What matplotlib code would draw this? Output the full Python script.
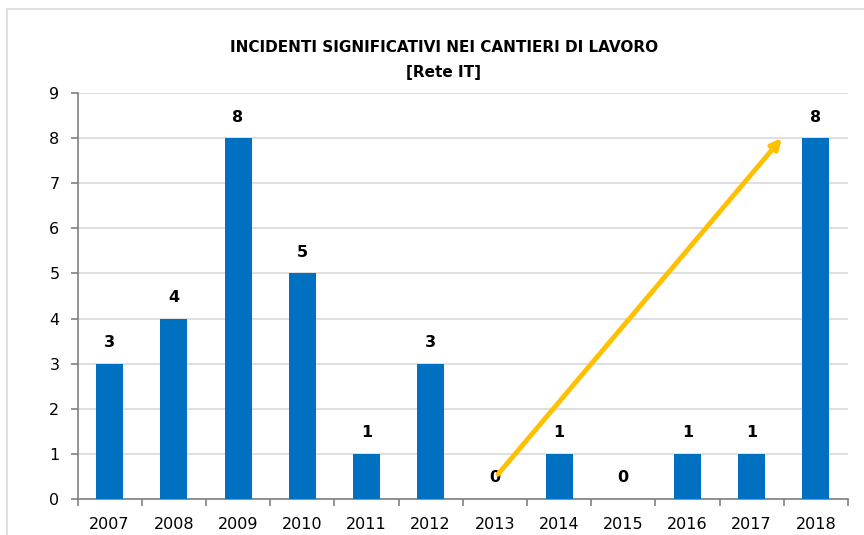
import numpy as np
import matplotlib.pyplot as plt
from matplotlib.patches import Rectangle

plt.rcParams['font.family'] = ['DejaVu Sans']

years = ['2007', '2008', '2009', '2010', '2011', '2012',
         '2013', '2014', '2015', '2016', '2017', '2018']
incidents = [3, 4, 8, 5, 1, 3, 0, 1, 0, 1, 1, 8]

# trend arrow (category index, value)
arrow_start = (6.05, 0.55)
arrow_end = (10.47, 8.0)

fig = plt.figure(figsize=(8.64, 5.35), dpi=100)
fig.patches.append(Rectangle((7 / 864, -0.1), 1.2, 1 - 9 / 535 + 0.1,
                             transform=fig.transFigure, fill=False,
                             edgecolor='#D9D9D9', linewidth=1.2))

ax = fig.add_axes([77.5 / 864, 1 - 499 / 535, (848 - 77.5) / 864, (499 - 93) / 535])
x = np.arange(len(years))
ax.bar(x, incidents, width=0.42, color='#0070C0', zorder=3)

for xi, v in zip(x, incidents):
    ax.text(xi, v + 0.3, str(v), ha='center', va='bottom',
            fontsize=11.5, fontweight='bold', color='black', zorder=4)

ax.annotate('', xy=arrow_end, xytext=arrow_start,
            arrowprops=dict(arrowstyle='-|>,head_length=0.6,head_width=0.3',
                            color='#FFC000', lw=3.5, shrinkA=0, shrinkB=0),
            zorder=5)

ax.set_xlim(-0.5, len(years) - 0.5)
ax.set_ylim(0, 9)
ax.set_yticks(range(0, 10))
ax.set_xticks(x)
ax.set_xticklabels(years)
ax.set_xticks(np.arange(-0.5, len(years), 1), minor=True)
ax.tick_params(axis='x', which='major', length=0, pad=13, labelsize=11.5)
ax.tick_params(axis='x', which='minor', length=5, color='#808080', width=1.2)
ax.tick_params(axis='y', length=5, color='#808080', width=1.2, pad=8, labelsize=11.5)

ax.grid(axis='y', color='#D9D9D9', linewidth=1.2, zorder=0)
for s in ['top', 'right']:
    ax.spines[s].set_visible(False)
for s in ['left', 'bottom']:
    ax.spines[s].set_color('#808080')
    ax.spines[s].set_linewidth(1.2)

fig.text(444 / 864, 1 - 48 / 535, 'INCIDENTI SIGNIFICATIVI NEI CANTIERI DI LAVORO',
         ha='center', va='center', fontsize=11, fontweight='bold')
fig.text(444 / 864, 1 - 72 / 535, '[Rete IT]',
         ha='center', va='center', fontsize=11, fontweight='bold')

fig.savefig('out.png', dpi=100)
